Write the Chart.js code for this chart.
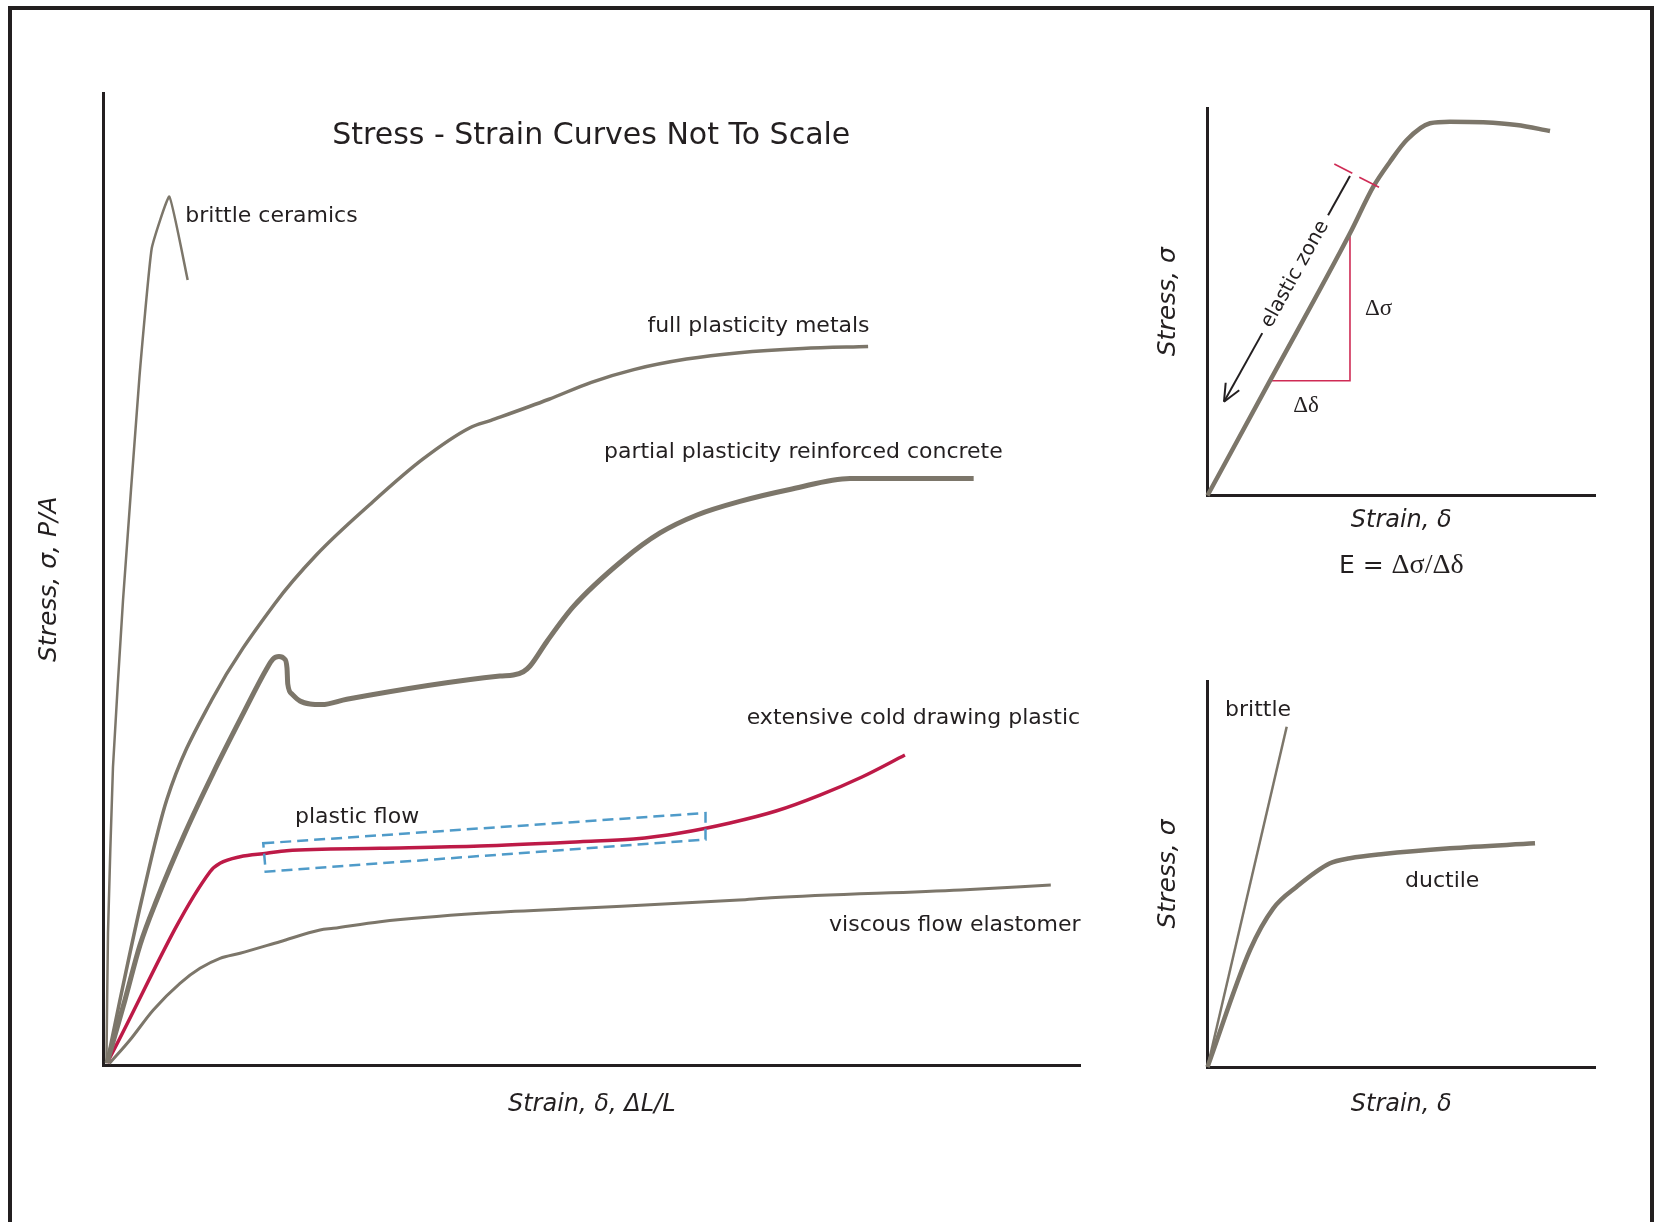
<!DOCTYPE html>
<html>
<head>
<meta charset="utf-8">
<title>Stress - Strain Curves</title>
<script src="https://cdn.jsdelivr.net/npm/chart.js@4.4.1/dist/chart.umd.min.js"></script>
<style>
  html, body { margin: 0; padding: 0; background: #ffffff; }
  body { width: 1656px; height: 1222px; position: relative; overflow: hidden; }
  canvas { position: absolute; left: 0; top: 0; }
  #frame {
    position: absolute; left: 8px; top: 6px; width: 1638px; height: 1300px;
    border: 4px solid #231f20; border-bottom: none;
  }
</style>
</head>
<body>
<div id="frame"></div>
<canvas id="curves" width="1656" height="1222"></canvas>
<canvas id="modulus" width="1656" height="1222"></canvas>
<canvas id="compare" width="1656" height="1222"></canvas>
<script>
// ---- series: [strain, stress] in arbitrary units (0..100 on both axes) ----
const brittleCeramics = [[0.3,0.2],[0.46,13.62],[0.97,30.69],[2.0,47.87],[3.67,70.66],[4.94,84.03],[6.74,89.34],[8.62,80.77]];
const fullPlasticityMetals = [[0.36,0.26],[1.69,6.74],[3.91,17.02],[6.47,27.30],[11.08,37.58],[17.52,47.46],[21.84,52.54],[27.25,57.66],[32.66,62.32],[37.53,65.58],[39.68,66.34],[45.62,68.51],[49.96,70.25],[54.30,71.56],[59.70,72.64],[65.11,73.30],[71.59,73.73],[78.30,73.94]];
const partialPlasticityConcrete = [[0.36,0.26],[2.20,6.74],[3.74,12.39],[5.45,17.02],[8.35,23.91],[11.24,30.08],[14.18,35.94],[16.64,40.67],[17.36,41.80],[17.97,42.06],[18.54,41.80],[18.79,40.87],[18.87,39.23],[19.30,38.20],[20.12,37.48],[21.15,37.17],[22.35,37.11],[24.91,37.66],[40.60,40.05],[41.97,40.15],[42.99,40.49],[43.68,41.08],[45.39,43.58],[48.11,47.18],[53.20,51.98],[56.99,54.76],[60.78,56.61],[65.08,57.98],[70.51,59.28],[76.45,60.37],[89.11,60.37]];
const coldDrawingPlastic = [[0.36,0.26],[10.91,19.93],[11.93,20.79],[13.98,21.47],[16.71,21.82],[18.76,22.09],[28.31,22.33],[38.55,22.57],[48.80,23.01],[54.30,23.29],[59.04,23.91],[64.16,24.94],[68.87,26.17],[73.37,27.81],[77.67,29.67],[82.07,31.93]];
const viscousElastomer = [[0.6,0.2],[2.71,2.62],[5.10,5.71],[7.83,8.45],[9.88,9.99],[11.93,11.02],[13.98,11.54],[18.07,12.73],[22.17,13.93],[23.53,14.11],[28.33,14.79],[38.56,15.65],[48.80,16.16],[65.08,17.02],[68.36,17.25],[87.81,18.05],[97.01,18.56]];
// corners of the plastic-flow outline
const plasticFlowBox = [[16.36,22.85],[61.65,25.96],[61.65,23.23],[16.61,19.93]];

// curve names placed next to each curve: [text, strain, stress]
const curveLabels = [
  ['brittle ceramics', 8.38, 86.77],
  ['full plasticity metals', 55.70, 75.38],
  ['partial plasticity reinforced concrete', 51.25, 62.47],
  ['extensive cold drawing plastic', 65.87, 35.12],
  ['plastic flow', 19.61, 24.97],
  ['viscous flow elastomer', 74.30, 13.83]
];

// ---- elastic modulus inset ----
const elasticCurve = [[0,0],[16.13,29.63],[36.77,67.66],[42.79,79.69],[47.10,86.14],[51.41,91.74],[57.42,96.05],[62.58,96.46],[71.17,96.31],[79.79,95.61],[88.39,94.06]];
const elasticLimitMarks = [[[32.72,85.55],[37.37,83.15]], [[39.17,82.12],[44.26,79.54]]];
const elasticArrow = [[36.77,82.45],[4.26,24.21]];

// ---- brittle vs ductile inset ----
const brittleLine = [[0,0],[20.44,88.16]];
const ductileCurve = [[0,0],[10.97,30.31],[16.98,41.11],[23.02,46.71],[31.61,52.77],[36.77,54.07],[45.37,55.18],[62.58,56.66],[84.52,57.95]];

// ---- styling ----
const INK = '#231f20';
const GREY = '#7c766a';
const CRIMSON = '#bd1a47';
const ROSE = '#cf2b55';
const BLUE = '#4f9bc9';
const SANS = '"DejaVu Sans", Verdana, sans-serif';
const SERIF = '"Liberation Serif", "DejaVu Serif", serif';

const pts = a => a.map(([x, y]) => ({ x, y }));

function series(label, arr, color, width, extra) {
  return Object.assign({
    label, data: pts(arr), borderColor: color, borderWidth: width,
    pointRadius: 0, pointHoverRadius: 0, fill: false,
    cubicInterpolationMode: 'monotone', borderJoinStyle: 'round', clip: false
  }, extra || {});
}

function axis(position, title, padding, size) {
  return {
    type: 'linear', position, min: 0, max: 100,
    grid: { display: false, drawTicks: false },
    ticks: { display: false },
    border: { display: true, width: 3, color: INK },
    title: {
      display: true, text: title, color: INK, padding,
      font: { family: SANS, size: size || 24, style: 'italic', lineHeight: 1.2 }
    }
  };
}

function makeChart(id, datasets, xAxis, yAxis, padding, hooks) {
  return new Chart(document.getElementById(id), {
    type: 'line',
    data: { datasets },
    options: {
      responsive: false, animation: false, devicePixelRatio: 1, events: [],
      layout: { padding },
      plugins: { legend: { display: false }, tooltip: { enabled: false }, title: { display: false } },
      scales: { x: xAxis, y: yAxis }
    },
    plugins: [Object.assign({ id: id + 'Notes' }, hooks)]
  });
}

function mapper(chart) {
  const sx = chart.scales.x, sy = chart.scales.y;
  return ([x, y]) => [sx.getPixelForValue(x), sy.getPixelForValue(y)];
}

function label(ctx, text, p, font, align, baseline) {
  ctx.font = font;
  ctx.fillStyle = INK;
  ctx.textAlign = align || 'left';
  ctx.textBaseline = baseline || 'alphabetic';
  ctx.fillText(text, p[0], p[1]);
}

function segment(ctx, a, b) {
  ctx.beginPath(); ctx.moveTo(a[0], a[1]); ctx.lineTo(b[0], b[1]); ctx.stroke();
}

// ---- main chart ----
makeChart('curves', [
  series('brittle ceramics', brittleCeramics, GREY, 2.5, { cubicInterpolationMode: 'default', tension: 0.12 }),
  series('full plasticity metals', fullPlasticityMetals, GREY, 3.5),
  series('partial plasticity reinforced concrete', partialPlasticityConcrete, GREY, 5),
  series('extensive cold drawing plastic', coldDrawingPlastic, CRIMSON, 3.5),
  series('viscous flow elastomer', viscousElastomer, GREY, 3)
],
  axis('bottom', 'Strain, δ, ΔL/L', { top: 24.8, bottom: 0 }),
  axis('left', 'Stress, σ, P/A', { top: 34.6, bottom: 38.9 }, 25),
  { left: 0, right: 576, top: 93, bottom: 102.9 },
  {
    afterDatasetsDraw(chart) {
      const ctx = chart.ctx, P = mapper(chart);
      ctx.save();
      ctx.strokeStyle = BLUE; ctx.lineWidth = 2.5; ctx.setLineDash([11, 6]);
      ctx.beginPath();
      plasticFlowBox.forEach((c, i) => { const p = P(c); i ? ctx.lineTo(p[0], p[1]) : ctx.moveTo(p[0], p[1]); });
      ctx.closePath(); ctx.stroke();
      ctx.setLineDash([]);
      label(ctx, 'Stress - Strain Curves Not To Scale', P([49.95, 94.76]), '30px ' + SANS, 'center');
      curveLabels.forEach(([t, x, y]) => label(ctx, t, P([x, y]), '22px ' + SANS));
      ctx.restore();
    }
  });

// ---- elastic modulus inset ----
makeChart('modulus', [
  series('elastic response', elasticCurve, GREY, 4.5)
],
  axis('bottom', 'Strain, δ', { top: 11.1, bottom: 0 }),
  axis('left', 'Stress, σ', { top: 0, bottom: 24.2 }, 25),
  { left: 1153.3, right: 61, top: 108, bottom: 686.6 },
  {
    beforeDatasetsDraw(chart) {
      const ctx = chart.ctx, P = mapper(chart);
      const a = elasticCurve[1], b = elasticCurve[2];
      ctx.save();
      ctx.strokeStyle = ROSE; ctx.lineWidth = 1.6;
      ctx.beginPath();
      const p0 = P(a), p1 = P([b[0], a[1]]), p2 = P(b);
      ctx.moveTo(p0[0], p0[1]); ctx.lineTo(p1[0], p1[1]); ctx.lineTo(p2[0], p2[1]);
      ctx.stroke();
      ctx.restore();
    },
    afterDatasetsDraw(chart) {
      const ctx = chart.ctx, P = mapper(chart);
      ctx.save();
      // limit of the elastic zone
      ctx.strokeStyle = ROSE; ctx.lineWidth = 1.6;
      elasticLimitMarks.forEach(([a, b]) => segment(ctx, P(a), P(b)));

      // arrow with its caption set into a gap
      const s = P(elasticArrow[0]), e = P(elasticArrow[1]);
      const dx = e[0] - s[0], dy = e[1] - s[1], len = Math.hypot(dx, dy);
      const ux = dx / len, uy = dy / len;
      const font = '20px ' + SANS;
      ctx.font = font;
      const caption = 'elastic zone';
      const half = ctx.measureText(caption).width / 2 + 8;
      const mid = len * 0.435;
      ctx.strokeStyle = INK; ctx.lineWidth = 2;
      segment(ctx, s, [s[0] + ux * (mid - half), s[1] + uy * (mid - half)]);
      segment(ctx, [s[0] + ux * (mid + half), s[1] + uy * (mid + half)], e);
      const ang = Math.atan2(-uy, -ux);
      [0.42, -0.42].forEach(d => {
        const t = ang + d;
        segment(ctx, e, [e[0] + Math.cos(t) * 19, e[1] + Math.sin(t) * 19]);
      });
      ctx.save();
      ctx.translate(s[0] + ux * mid, s[1] + uy * mid);
      ctx.rotate(ang);
      label(ctx, caption, [0, 0], font, 'center', 'middle');
      ctx.restore();

      label(ctx, 'Δσ', P([40.65, 46.63]), '23px ' + SERIF);
      label(ctx, 'Δδ', P([22.14, 21.63]), '23px ' + SERIF);

      // E = Δσ/Δδ under the axis title
      const base = P([50, -20.08]);
      ctx.font = '25px ' + SANS;
      const w1 = ctx.measureText('E = ').width;
      ctx.font = '28px ' + SERIF;
      const w2 = ctx.measureText('Δσ/Δδ').width;
      const x0 = base[0] - (w1 + w2) / 2;
      label(ctx, 'E = ', [x0, base[1]], '25px ' + SANS);
      label(ctx, 'Δσ/Δδ', [x0 + w1, base[1]], '28px ' + SERIF);
      ctx.restore();
    }
  });

// ---- brittle vs ductile inset ----
makeChart('compare', [
  series('brittle', brittleLine, GREY, 2.5, { cubicInterpolationMode: 'default', tension: 0 }),
  series('ductile', ductileCurve, GREY, 4.5)
],
  axis('bottom', 'Strain, δ', { top: 23.6, bottom: 0 }),
  axis('left', 'Stress, σ', { top: 0, bottom: 24.2 }, 25),
  { left: 1153.3, right: 61, top: 681, bottom: 102.6 },
  {
    afterDatasetsDraw(chart) {
      const ctx = chart.ctx, P = mapper(chart);
      ctx.save();
      label(ctx, 'brittle', P([4.52, 90.93]), '22px ' + SANS);
      label(ctx, 'ductile', P([50.97, 46.71]), '22px ' + SANS);
      ctx.restore();
    }
  });
</script>
</body>
</html>
